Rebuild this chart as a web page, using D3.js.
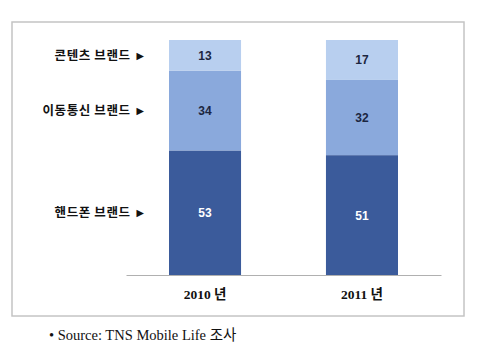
<!DOCTYPE html>
<html><head><meta charset="utf-8">
<script src="https://cdn.jsdelivr.net/npm/d3@7"></script>
<style>body{margin:0;background:#fff;}svg{display:block;}</style>
</head><body>
<svg id="c" width="480" height="356"></svg>
<script>
const years = ["2010 년", "2011 년"];
const seriesNames = ["핸드폰 브랜드", "이동통신 브랜드", "콘텐츠 브랜드"];
const handset = [53, 51];
const mobile = [34, 32];
const content = [13, 17];
const colors = ["#3b5b9b", "#8aa9dc", "#b8cfef"];
const textColors = ["#ffffff", "#1c2640", "#1c2640"];
const source = "• Source: TNS Mobile Life 조사";

const svg = d3.select("#c");
svg.append("rect").attr("x", 12).attr("y", 22).attr("width", 452).attr("height", 294)
  .attr("fill", "#fff").attr("stroke", "#c4c4c4").attr("stroke-width", 1.5);

const x = d3.scaleBand().domain(years).range([126, 441]).paddingInner(0.541).paddingOuter(0.274);
const y = d3.scaleLinear().domain([0, 100]).range([275, 40]);

const data = years.map((yr, i) => ({year: yr, v: [handset[i], mobile[i], content[i]]}));
const stack = d3.stack().keys([0, 1, 2]).value((d, k) => d.v[k]);
const layers = stack(data);

layers.forEach((layer, k) => {
  const g = svg.append("g");
  g.selectAll("rect").data(layer).join("rect")
    .attr("x", d => x(d.data.year)).attr("width", x.bandwidth())
    .attr("y", d => y(d[1])).attr("height", d => y(d[0]) - y(d[1]))
    .attr("fill", colors[k]);
  g.selectAll("text").data(layer).join("text")
    .attr("x", d => x(d.data.year) + x.bandwidth() / 2)
    .attr("y", d => (y(d[0]) + y(d[1])) / 2 + 4.5)
    .attr("text-anchor", "middle").attr("font-family", "Liberation Sans, Arial, sans-serif")
    .attr("font-weight", "bold").attr("font-size", 12).attr("fill", textColors[k])
    .text(d => d.data.v[k]);
});

layers.forEach((layer, k) => {
  const d = layer[0];
  svg.append("text").attr("x", 147).attr("y", (y(d[0]) + y(d[1])) / 2 + 4.5)
    .attr("text-anchor", "end").attr("font-family", "Noto Sans CJK KR, sans-serif")
    .attr("font-weight", "bold").attr("font-size", 12.5).attr("letter-spacing", 0.6).attr("fill", "#111")
    .text(seriesNames[k] + " ►");
});

const ax = svg.append("g").attr("transform", "translate(0,275)").call(d3.axisBottom(x).tickSize(0).tickPadding(14));
ax.select(".domain").attr("stroke", "#b0b0b0").attr("stroke-width", 1);
ax.selectAll("text").attr("font-family", "Liberation Serif, Noto Sans CJK KR, serif")
  .attr("font-size", 13.5).attr("font-weight", "bold").attr("fill", "#111");

svg.append("text").attr("x", 49).attr("y", 340)
  .attr("font-family", "Liberation Serif, Noto Sans CJK KR, serif").attr("font-size", 14.5).attr("fill", "#111")
  .text(source);
</script>
</body></html>
